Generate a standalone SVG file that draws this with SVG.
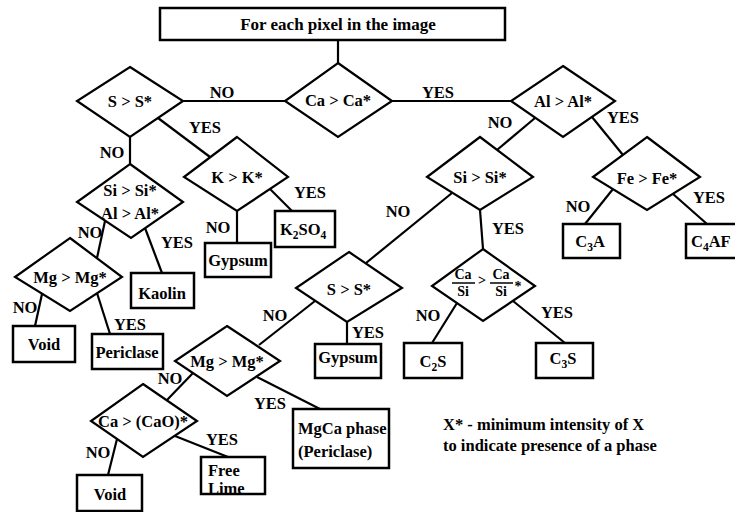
<svg xmlns="http://www.w3.org/2000/svg" width="735" height="512" viewBox="0 0 735 512">
<style>
  .box { fill: #fff; stroke: #000; stroke-width: 2.5; }
  .dia { fill: #fff; stroke: #000; stroke-width: 2.2; stroke-linejoin: miter; }
  .ln { fill: none; stroke: #000; stroke-width: 2.2; }
  text { font-family: "Liberation Serif", "Times New Roman", serif; font-weight: bold; font-size: 16.5px; fill: #000; }
  .c { text-anchor: middle; }
  .sub { font-size: 11.5px; }
  .fr { font-size: 14px; }
</style>
<rect width="735" height="512" fill="#fff"/>

<g id="connectors">
  <path class="ln" d="M338,40 L338,63"/>
  <path class="ln" d="M285,101 L183,101"/>
  <path class="ln" d="M392,101 L511,101"/>
  <path class="ln" d="M158,118 L210,157"/>
  <path class="ln" d="M130,137 L130,164"/>
  <path class="ln" d="M105,221 L97,258"/>
  <path class="ln" d="M145,228 L162,273"/>
  <path class="ln" d="M42,294 L35,326"/>
  <path class="ln" d="M97,293 L110,334"/>
  <path class="ln" d="M237,211 L237,243"/>
  <path class="ln" d="M270,189 L292,211"/>
  <path class="ln" d="M535,118 L497,150"/>
  <path class="ln" d="M592,117 L623,155"/>
  <path class="ln" d="M613,189 L585,224"/>
  <path class="ln" d="M673,194 L707,224"/>
  <path class="ln" d="M452,193 L366,263"/>
  <path class="ln" d="M480,210 L483,249"/>
  <path class="ln" d="M457,303 L432,343"/>
  <path class="ln" d="M513,301 L565,343"/>
  <path class="ln" d="M315,301 L259,345"/>
  <path class="ln" d="M347,322 L347,344"/>
  <path class="ln" d="M193,373 L167,400"/>
  <path class="ln" d="M257,377 L320,409"/>
  <path class="ln" d="M117,439 L108,475"/>
  <path class="ln" d="M175,436 L228,457"/>
</g>

<g id="edge-labels">
  <text class="c" x="222" y="98">NO</text>
  <text class="c" x="438" y="98">YES</text>
  <text class="c" x="205" y="133">YES</text>
  <text class="c" x="112" y="158">NO</text>
  <text class="c" x="90" y="238">NO</text>
  <text class="c" x="177" y="248">YES</text>
  <text class="c" x="25" y="313">NO</text>
  <text class="c" x="130" y="330">YES</text>
  <text class="c" x="218" y="233">NO</text>
  <text class="c" x="310" y="198">YES</text>
  <text class="c" x="500" y="128">NO</text>
  <text class="c" x="623" y="123">YES</text>
  <text class="c" x="578" y="212">NO</text>
  <text class="c" x="709" y="203">YES</text>
  <text class="c" x="398" y="217">NO</text>
  <text class="c" x="508" y="234">YES</text>
  <text class="c" x="428" y="321">NO</text>
  <text class="c" x="557" y="318">YES</text>
  <text class="c" x="275" y="321">NO</text>
  <text class="c" x="368" y="338">YES</text>
  <text class="c" x="170" y="384">NO</text>
  <text class="c" x="270" y="409">YES</text>
  <text class="c" x="98" y="458">NO</text>
  <text class="c" x="222" y="445">YES</text>
</g>

<g id="start">
  <rect class="box" x="160" y="8" width="345" height="32"/>
  <text class="c" x="338" y="30" style="font-size:17px">For each pixel in the image</text>
</g>

<g id="d-ca">
  <polygon class="dia" points="338,63 392,101 338,137 285,101"/>
  <text class="c" x="338" y="106">Ca &gt; Ca*</text>
</g>
<g id="d-s1">
  <polygon class="dia" points="130,67 183,101 130,137 77,101"/>
  <text class="c" x="130" y="107">S &gt; S*</text>
</g>
<g id="d-al">
  <polygon class="dia" points="563,66 615,101 563,137 511,101"/>
  <text class="c" x="563" y="107">Al &gt; Al*</text>
</g>
<g id="d-k">
  <polygon class="dia" points="237,137 288,177 237,211 184,177"/>
  <text class="c" x="237" y="183">K &gt; K*</text>
</g>
<g id="d-sial">
  <polygon class="dia" points="130,164 183,202 131,238 77,202"/>
  <text class="c" x="130" y="196">Si &gt; Si*</text>
  <text class="c" x="130" y="219">Al &gt; Al*</text>
</g>
<g id="d-si">
  <polygon class="dia" points="480,137 533,177 480,210 427,177"/>
  <text class="c" x="480" y="183">Si &gt; Si*</text>
</g>
<g id="d-fe">
  <polygon class="dia" points="647,137 700,177 647,210 593,177"/>
  <text class="c" x="647" y="184">Fe &gt; Fe*</text>
</g>
<g id="d-mg1">
  <polygon class="dia" points="70,238 122,277 70,311 15,277"/>
  <text class="c" x="70" y="283">Mg &gt; Mg*</text>
</g>
<g id="d-casi">
  <polygon class="dia" points="483,249 535,286 483,321 432,286"/>
  <text class="c fr" x="463" y="279">Ca</text>
  <line x1="452" y1="283" x2="475" y2="283" stroke="#000" stroke-width="1.5"/>
  <text class="c fr" x="463" y="296">Si</text>
  <text class="c fr" x="482" y="285">&gt;</text>
  <text class="c fr" x="501" y="279">Ca</text>
  <line x1="490" y1="283" x2="513" y2="283" stroke="#000" stroke-width="1.5"/>
  <text class="c fr" x="501" y="296">Si</text>
  <text class="c fr" x="518" y="291">*</text>
</g>
<g id="d-s2">
  <polygon class="dia" points="349,252 402,288 347,322 296,288"/>
  <text class="c" x="349" y="295">S &gt; S*</text>
</g>
<g id="d-mg2">
  <polygon class="dia" points="227,326 280,361 227,396 175,361"/>
  <text class="c" x="227" y="367">Mg &gt; Mg*</text>
</g>
<g id="d-cao">
  <polygon class="dia" points="143,384 197,421 143,457 91,421"/>
  <text class="c" x="143" y="427">Ca &gt; (CaO)*</text>
</g>

<g id="b-kaolin">
  <rect class="box" x="131" y="273" width="63" height="35"/>
  <text class="c" x="162" y="299">Kaolin</text>
</g>
<g id="b-void1">
  <rect class="box" x="13" y="326" width="62" height="36"/>
  <text class="c" x="44" y="350">Void</text>
</g>
<g id="b-periclase">
  <rect class="box" x="92" y="334" width="71" height="35"/>
  <text class="c" x="127" y="358">Periclase</text>
</g>
<g id="b-gypsum1">
  <rect class="box" x="205" y="243" width="66" height="34"/>
  <text class="c" x="238" y="266">Gypsum</text>
</g>
<g id="b-k2so4">
  <rect class="box" x="275" y="211" width="60" height="36"/>
  <text x="280" y="235">K<tspan class="sub" dy="4">2</tspan><tspan dy="-4">SO</tspan><tspan class="sub" dy="4">4</tspan></text>
</g>
<g id="b-c3a">
  <rect class="box" x="563" y="224" width="57" height="34"/>
  <text class="c" x="590" y="247">C<tspan class="sub" dy="4">3</tspan><tspan dy="-4">A</tspan></text>
</g>
<g id="b-c4af">
  <rect class="box" x="686" y="224" width="60" height="34"/>
  <text x="691" y="247">C<tspan class="sub" dy="4">4</tspan><tspan dy="-4">AF</tspan></text>
</g>
<g id="b-c2s">
  <rect class="box" x="404" y="343" width="58" height="35"/>
  <text class="c" x="433" y="367">C<tspan class="sub" dy="4">2</tspan><tspan dy="-4">S</tspan></text>
</g>
<g id="b-c3s">
  <rect class="box" x="536" y="343" width="57" height="35"/>
  <text class="c" x="563" y="364">C<tspan class="sub" dy="4">3</tspan><tspan dy="-4">S</tspan></text>
</g>
<g id="b-gypsum2">
  <rect class="box" x="315" y="344" width="66" height="34"/>
  <text class="c" x="348" y="363">Gypsum</text>
</g>
<g id="b-mgca">
  <rect class="box" x="293" y="409" width="96" height="59"/>
  <text x="298" y="434">MgCa phase</text>
  <text x="298" y="457">(Periclase)</text>
</g>
<g id="b-freelime">
  <rect class="box" x="201" y="457" width="64" height="37"/>
  <text x="208" y="476">Free</text>
  <text x="208" y="494">Lime</text>
</g>
<g id="b-void2">
  <rect class="box" x="77" y="475" width="65" height="36"/>
  <text class="c" x="110" y="500">Void</text>
</g>

<g id="legend">
  <text x="443" y="430">X* - minimum intensity of X</text>
  <text x="443" y="451">to indicate presence of a phase</text>
</g>
</svg>
